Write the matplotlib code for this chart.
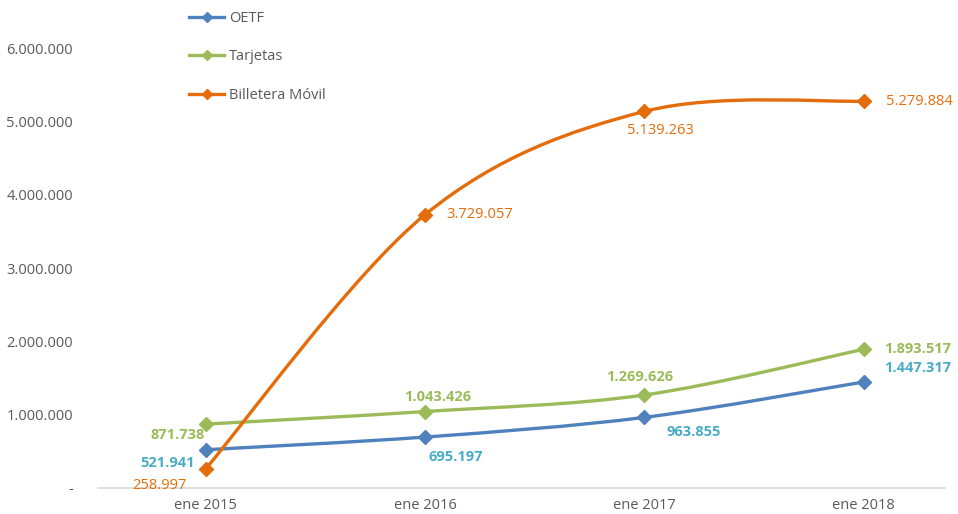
import matplotlib
matplotlib.use("Agg")
import matplotlib.pyplot as plt
from matplotlib.path import Path
from matplotlib.patches import PathPatch
from matplotlib.lines import Line2D

plt.rcParams['font.family'] = ['Open Sans', 'DejaVu Sans']

categories = ["ene 2015", "ene 2016", "ene 2017", "ene 2018"]
oetf = [521941, 695197, 963855, 1447317]
tarjetas = [871738, 1043426, 1269626, 1893517]
billetera = [258997, 3729057, 5139263, 5279884]
series_names = ["OETF", "Tarjetas", "Billetera Móvil"]
yticks = [0, 1000000, 2000000, 3000000, 4000000, 5000000, 6000000]

line_colors = ["#4F81BD", "#9BBB59", "#E46C0A"]
label_colors = ["#4BACC6", "#9BBB59", "#E46C0A"]
label_bold = [True, True, False]
offsets = [
    [(-38, -13), (31, -20), (49, -15), (54, 14)],
    [(-28, -11), (13, 15), (-5, 18), (54, 0)],
    [(-46, -16), (55, 0), (16, -19), (56, 0)],
]


def fmt(v):
    return f"{v:,.0f}".replace(",", ".")


def smooth_path(xs, ys):
    pts = list(zip(xs, ys))
    n = len(pts)
    verts = [pts[0]]
    codes = [Path.MOVETO]
    for i in range(n - 1):
        p0 = pts[i - 1] if i > 0 else pts[i]
        p1 = pts[i]
        p2 = pts[i + 1]
        p3 = pts[i + 2] if i + 2 < n else pts[i + 1]
        c1 = (p1[0] + (p2[0] - p0[0]) / 6, p1[1] + (p2[1] - p0[1]) / 6)
        c2 = (p2[0] - (p3[0] - p1[0]) / 6, p2[1] - (p3[1] - p1[1]) / 6)
        verts += [c1, c2, p2]
        codes += [Path.CURVE4] * 3
    return Path(verts, codes)


fig = plt.figure(figsize=(9.58, 5.14), dpi=100)
ax = fig.add_axes([98 / 958, (514 - 488) / 514, (945 - 98) / 958, 488 / 514])

x = list(range(len(categories)))
data = [oetf, tarjetas, billetera]
handles = []
for k, (vals, name) in enumerate(zip(data, series_names)):
    patch = PathPatch(smooth_path(x, vals), facecolor='none', edgecolor=line_colors[k],
                      lw=2.4, capstyle='round', joinstyle='round', zorder=2 + k)
    ax.add_patch(patch)
    ax.plot(x, vals, linestyle='none', marker='D', markersize=7.5,
            color=line_colors[k], zorder=3 + k)
    for i, v in enumerate(vals):
        ax.annotate(fmt(v), (x[i], v), xytext=offsets[k][i], textcoords='offset pixels',
                    ha='center', va='center', fontsize=10.5, color=label_colors[k],
                    fontweight='bold' if label_bold[k] else 'normal', zorder=10)
    handles.append(Line2D([0], [0], color=line_colors[k], lw=2.4, marker='D',
                          markersize=5))

ax.set_xlim(-0.49, 3.37)
ax.set_ylim(0, 6.66e6)
ax.set_xticks(x)
ax.set_xticklabels(categories)
ax.set_yticks(yticks)
ax.set_yticklabels(["-" if t == 0 else fmt(t) for t in yticks])
ax.tick_params(axis='both', length=0, labelsize=10.5, colors='#595959')
ax.tick_params(axis='y', pad=18)
ax.tick_params(axis='x', pad=7)
for s in ['top', 'right', 'left']:
    ax.spines[s].set_visible(False)
ax.spines['bottom'].set_color('#D9D9D9')
ax.spines['bottom'].set_linewidth(1.2)

leg = fig.legend(handles, series_names, loc='upper left',
                 bbox_to_anchor=(189 / 958, 1 - 11 / 514), frameon=False,
                 borderpad=0, borderaxespad=0,
                 fontsize=10.5, labelspacing=1.6, handlelength=2.4, handletextpad=0.35,
                 labelcolor='#595959')

fig.savefig("out.png", dpi=100)
